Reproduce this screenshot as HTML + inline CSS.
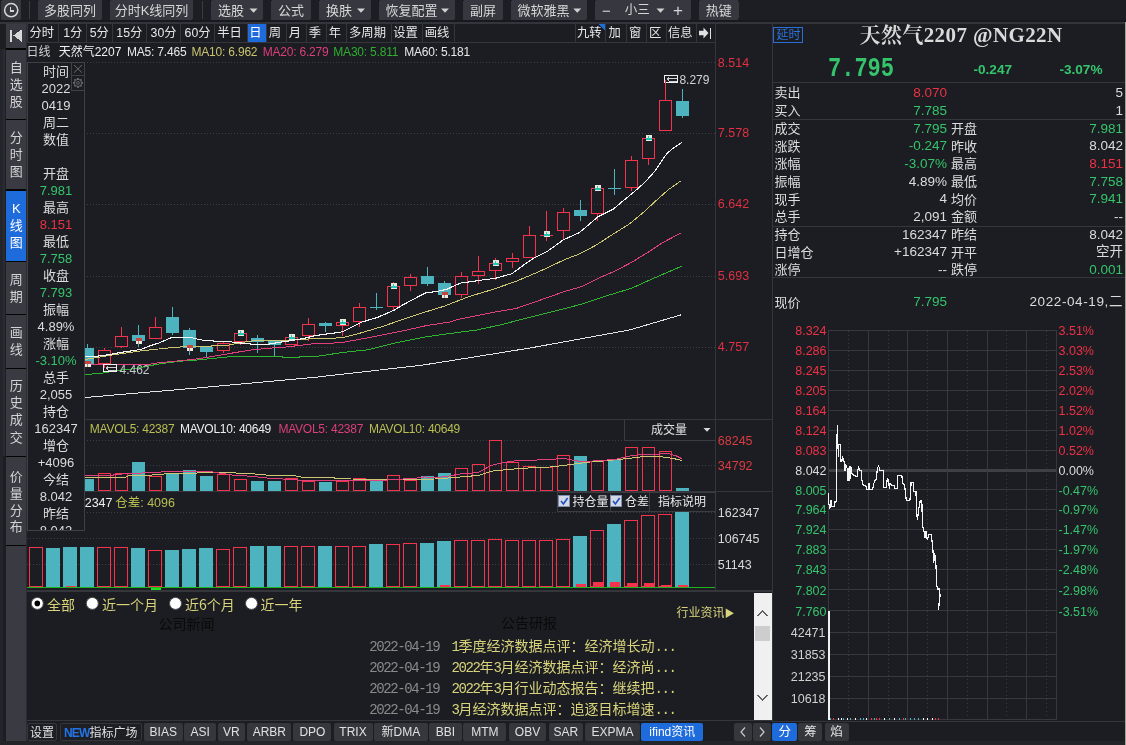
<!DOCTYPE html>
<html><head><meta charset="utf-8"><title>K线</title>
<style>
html,body{margin:0;padding:0;background:#1b1d22;}
body{width:1126px;height:745px;position:relative;overflow:hidden;font-family:"Liberation Sans", "Noto Sans CJK SC", sans-serif;}
.t{position:absolute;white-space:nowrap;}
svg{position:absolute;left:0;top:0;}
</style></head><body>
<svg width="1126" height="745" viewBox="0 0 1126 745" shape-rendering="crispEdges">
<rect x="0" y="0" width="1126" height="745" fill="#1b1d22"/>
<rect x="0" y="0" width="1126" height="22" fill="#1c1e23"/>
<rect x="0" y="20" width="1126" height="2" fill="#17191d"/>
<rect x="0" y="22" width="1126" height="2" fill="#33353c"/>
<rect x="0" y="24" width="6" height="721" fill="#1c1e22"/>
<rect x="0" y="48.5" width="2.8" height="696" fill="#22252c"/>
<rect x="2.8" y="48.5" width="2.3" height="407.5" fill="#2b2c32"/>
<rect x="26" y="24" width="1" height="717" fill="#2a2c32"/>
<rect x="0" y="741" width="1125" height="4" fill="#242529"/>
<rect x="1" y="0" width="20" height="20" rx="2" fill="#37383f"/>
<rect x="38" y="0" width="64" height="20" rx="2" fill="#37383f"/>
<rect x="110" y="0" width="83" height="20" rx="2" fill="#37383f"/>
<rect x="211" y="0" width="52" height="20" rx="2" fill="#37383f"/>
<rect x="271" y="0" width="40" height="20" rx="2" fill="#37383f"/>
<rect x="319" y="0" width="52" height="20" rx="2" fill="#37383f"/>
<rect x="379" y="0" width="76" height="20" rx="2" fill="#37383f"/>
<rect x="463" y="0" width="40" height="20" rx="2" fill="#37383f"/>
<rect x="511" y="0" width="76" height="20" rx="2" fill="#37383f"/>
<rect x="595" y="0" width="96" height="20" rx="2" fill="#37383f"/>
<rect x="699" y="0" width="39.5" height="20" rx="2" fill="#37383f"/>
<rect x="29" y="1" width="1" height="18" fill="#3a3c42"/>
<rect x="202" y="1" width="1" height="18" fill="#3a3c42"/>
<circle cx="11.2" cy="10.2" r="6.6" fill="none" stroke="#d6d6d6" stroke-width="1.5" shape-rendering="geometricPrecision"/>
<path d="M10.6 6.6 V10.9 H14" fill="none" stroke="#d6d6d6" stroke-width="1.4"/>
<path d="M249.5 8.6 h8 l-4 4.2 z" fill="#d0d0d0" shape-rendering="geometricPrecision"/>
<path d="M357 8.6 h8 l-4 4.2 z" fill="#d0d0d0" shape-rendering="geometricPrecision"/>
<path d="M441 8.6 h8 l-4 4.2 z" fill="#d0d0d0" shape-rendering="geometricPrecision"/>
<path d="M573.3 8.6 h8 l-4 4.2 z" fill="#d0d0d0" shape-rendering="geometricPrecision"/>
<path d="M656.5 8.6 h8 l-4 4.2 z" fill="#d0d0d0" shape-rendering="geometricPrecision"/>
<rect x="27" y="24" width="689" height="18" fill="#1b1d22"/>
<rect x="27" y="42" width="689" height="1.3" fill="#34363c"/>
<rect x="27" y="24" width="1" height="18" fill="#34363c"/>
<rect x="58.4" y="24" width="1" height="18" fill="#34363c"/>
<rect x="85.8" y="24" width="1" height="18" fill="#34363c"/>
<rect x="111.5" y="24" width="1" height="18" fill="#34363c"/>
<rect x="146" y="24" width="1" height="18" fill="#34363c"/>
<rect x="180" y="24" width="1" height="18" fill="#34363c"/>
<rect x="214" y="24" width="1" height="18" fill="#34363c"/>
<rect x="247" y="24" width="1" height="18" fill="#34363c"/>
<rect x="266" y="24" width="1" height="18" fill="#34363c"/>
<rect x="286" y="24" width="1" height="18" fill="#34363c"/>
<rect x="306" y="24" width="1" height="18" fill="#34363c"/>
<rect x="326" y="24" width="1" height="18" fill="#34363c"/>
<rect x="346" y="24" width="1" height="18" fill="#34363c"/>
<rect x="391" y="24" width="1" height="18" fill="#34363c"/>
<rect x="422" y="24" width="1" height="18" fill="#34363c"/>
<rect x="454" y="24" width="1" height="18" fill="#34363c"/>
<rect x="575" y="24" width="1" height="18" fill="#34363c"/>
<rect x="605" y="24" width="1" height="18" fill="#34363c"/>
<rect x="626" y="24" width="1" height="18" fill="#34363c"/>
<rect x="646" y="24" width="1" height="18" fill="#34363c"/>
<rect x="666" y="24" width="1" height="18" fill="#34363c"/>
<rect x="696" y="24" width="1" height="18" fill="#34363c"/>
<rect x="715" y="24" width="1" height="18" fill="#34363c"/>
<rect x="247.5" y="24" width="18.5" height="18" fill="#1e6bdb"/>
<path d="M598 24 h7 v7 z" fill="#1e6bdb"/>
<rect x="6" y="24" width="20" height="24" fill="#393a42"/>
<rect x="10" y="29.5" width="2" height="12" fill="#d8d8d8"/>
<path d="M21.5 29.5 v12 l-8 -6 z" fill="#d8d8d8"/>
<rect x="6" y="48" width="20" height="693" fill="#050505"/>
<rect x="6" y="49.5" width="20" height="69.2" fill="#393a42"/>
<rect x="6" y="119.6" width="20" height="69.20000000000002" fill="#393a42"/>
<rect x="6" y="190.8" width="20" height="70.0" fill="#1e6bdb"/>
<rect x="6" y="262" width="20" height="52.19999999999999" fill="#393a42"/>
<rect x="6" y="315.2" width="20" height="52.400000000000034" fill="#393a42"/>
<rect x="6" y="368.6" width="20" height="87.39999999999998" fill="#393a42"/>
<rect x="6" y="457" width="20" height="88" fill="#393a42"/>
<rect x="6" y="546" width="20" height="194.79999999999995" fill="#393a42"/>
<rect x="772" y="24" width="1" height="697" fill="#34363c"/>
<rect x="1125" y="22" width="1" height="723" fill="#9ea390"/>
<rect x="772" y="82" width="353" height="1" fill="#34363c"/>
<rect x="772" y="118.5" width="353" height="1" fill="#34363c"/>
<rect x="772" y="225.5" width="353" height="1" fill="#34363c"/>
<rect x="772" y="277" width="353" height="1" fill="#34363c"/>
<rect x="773.8" y="27.5" width="28.5" height="14.5" fill="none" stroke="#2a6fd6" stroke-width="1"/>
<line x1="27" y1="62.5" x2="716" y2="62.5" stroke="#3c3e44" stroke-width="1" stroke-dasharray="1 2"/>
<line x1="27" y1="133.5" x2="716" y2="133.5" stroke="#3c3e44" stroke-width="1" stroke-dasharray="1 2"/>
<line x1="27" y1="204.5" x2="716" y2="204.5" stroke="#3c3e44" stroke-width="1" stroke-dasharray="1 2"/>
<line x1="27" y1="276.5" x2="716" y2="276.5" stroke="#3c3e44" stroke-width="1" stroke-dasharray="1 2"/>
<line x1="27" y1="347.5" x2="716" y2="347.5" stroke="#3c3e44" stroke-width="1" stroke-dasharray="1 2"/>
<line x1="27" y1="440.5" x2="716" y2="440.5" stroke="#3c3e44" stroke-width="1" stroke-dasharray="1 2"/>
<line x1="27" y1="465.5" x2="716" y2="465.5" stroke="#3c3e44" stroke-width="1" stroke-dasharray="1 2"/>
<line x1="27" y1="512.5" x2="716" y2="512.5" stroke="#3c3e44" stroke-width="1" stroke-dasharray="1 2"/>
<line x1="27" y1="538.5" x2="716" y2="538.5" stroke="#3c3e44" stroke-width="1" stroke-dasharray="1 2"/>
<line x1="27" y1="564.5" x2="716" y2="564.5" stroke="#3c3e44" stroke-width="1" stroke-dasharray="1 2"/>
<rect x="715" y="24" width="1" height="567" fill="#34363c"/>
<rect x="27" y="419" width="745" height="1" fill="#34363c"/>
<rect x="27" y="490.8" width="745" height="1" fill="#34363c"/>
<rect x="27" y="590" width="745" height="1.5" fill="#34363c"/>
<rect x="87" y="344.0" width="1.1" height="20.5" fill="#4cb3bf"/>
<rect x="81.0" y="348.2" width="13" height="15.7" fill="#4cb3bf"/>
<rect x="104" y="348.2" width="1.1" height="2.1" fill="#f4334c"/>
<rect x="104" y="364.5" width="1.1" height="3.6" fill="#f4334c"/>
<rect x="98.5" y="350.5" width="12" height="13" fill="none" stroke="#f4334c" stroke-width="1"/>
<rect x="121" y="327.0" width="1.1" height="9.1" fill="#f4334c"/>
<rect x="121" y="347.0" width="1.1" height="1.2" fill="#f4334c"/>
<rect x="115.5" y="336.5" width="12" height="10" fill="none" stroke="#f4334c" stroke-width="1"/>
<rect x="138" y="325.0" width="1.1" height="22.0" fill="#4cb3bf"/>
<rect x="132.0" y="334.9" width="13" height="6.0" fill="#4cb3bf"/>
<rect x="155" y="317.0" width="1.1" height="10.0" fill="#f4334c"/>
<rect x="149.5" y="327.5" width="12" height="11" fill="none" stroke="#f4334c" stroke-width="1"/>
<rect x="172" y="306.8" width="1.1" height="28.1" fill="#4cb3bf"/>
<rect x="166.0" y="317.0" width="13" height="16.0" fill="#4cb3bf"/>
<rect x="189" y="327.9" width="1.1" height="26.9" fill="#4cb3bf"/>
<rect x="183.0" y="330.0" width="13" height="18.2" fill="#4cb3bf"/>
<rect x="206" y="347.1" width="1.1" height="9.7" fill="#4cb3bf"/>
<rect x="200.0" y="347.1" width="13" height="4.9" fill="#4cb3bf"/>
<rect x="223" y="341.7" width="1.1" height="1.6" fill="#f4334c"/>
<rect x="223" y="350.8" width="1.1" height="2.1" fill="#f4334c"/>
<rect x="217.5" y="343.5" width="12" height="7" fill="none" stroke="#f4334c" stroke-width="1"/>
<rect x="240" y="341.7" width="1.1" height="3.0" fill="#f4334c"/>
<rect x="234.5" y="333.5" width="12" height="8" fill="none" stroke="#f4334c" stroke-width="1"/>
<rect x="257" y="335.0" width="1.1" height="17.9" fill="#4cb3bf"/>
<rect x="251.0" y="338.0" width="13" height="3.7" fill="#4cb3bf"/>
<rect x="274" y="341.3" width="1.1" height="14.9" fill="#4cb3bf"/>
<rect x="268.0" y="341.3" width="13" height="3.4" fill="#4cb3bf"/>
<rect x="285.5" y="337.5" width="12" height="7" fill="none" stroke="#f4334c" stroke-width="1"/>
<rect x="308" y="318.1" width="1.1" height="5.5" fill="#f4334c"/>
<rect x="308" y="336.0" width="1.1" height="4.8" fill="#f4334c"/>
<rect x="302.5" y="324.5" width="12" height="11" fill="none" stroke="#f4334c" stroke-width="1"/>
<rect x="325" y="322.0" width="1.1" height="9.7" fill="#4cb3bf"/>
<rect x="319.0" y="323.3" width="13" height="2.7" fill="#4cb3bf"/>
<rect x="342" y="325.7" width="1.1" height="10.0" fill="#f4334c"/>
<rect x="336.5" y="322.5" width="12" height="3" fill="none" stroke="#f4334c" stroke-width="1"/>
<rect x="359" y="303.1" width="1.1" height="4.1" fill="#f4334c"/>
<rect x="359" y="321.7" width="1.1" height="5.2" fill="#f4334c"/>
<rect x="353.5" y="307.5" width="12" height="14" fill="none" stroke="#f4334c" stroke-width="1"/>
<rect x="376" y="293.0" width="1.1" height="17.0" fill="#4cb3bf"/>
<rect x="370.0" y="307.0" width="13" height="1.2" fill="#4cb3bf"/>
<rect x="393" y="282.2" width="1.1" height="4.0" fill="#f4334c"/>
<rect x="393" y="306.7" width="1.1" height="3.3" fill="#f4334c"/>
<rect x="387.5" y="286.5" width="12" height="20" fill="none" stroke="#f4334c" stroke-width="1"/>
<rect x="410" y="273.7" width="1.1" height="3.3" fill="#f4334c"/>
<rect x="410" y="285.8" width="1.1" height="5.2" fill="#f4334c"/>
<rect x="404.5" y="277.5" width="12" height="8" fill="none" stroke="#f4334c" stroke-width="1"/>
<rect x="427" y="267.1" width="1.1" height="18.9" fill="#4cb3bf"/>
<rect x="421.0" y="276.0" width="13" height="7.9" fill="#4cb3bf"/>
<rect x="444" y="281.1" width="1.1" height="13.9" fill="#4cb3bf"/>
<rect x="438.0" y="283.0" width="13" height="12.0" fill="#4cb3bf"/>
<rect x="461" y="272.1" width="1.1" height="4.0" fill="#f4334c"/>
<rect x="461" y="294.8" width="1.1" height="3.1" fill="#f4334c"/>
<rect x="455.5" y="276.5" width="12" height="18" fill="none" stroke="#f4334c" stroke-width="1"/>
<rect x="478" y="256.2" width="1.1" height="15.1" fill="#f4334c"/>
<rect x="478" y="275.8" width="1.1" height="8.0" fill="#f4334c"/>
<rect x="472.5" y="271.5" width="12" height="4" fill="none" stroke="#f4334c" stroke-width="1"/>
<rect x="495" y="258.2" width="1.1" height="4.9" fill="#f4334c"/>
<rect x="495" y="270.7" width="1.1" height="9.1" fill="#f4334c"/>
<rect x="489.5" y="263.5" width="12" height="7" fill="none" stroke="#f4334c" stroke-width="1"/>
<rect x="512" y="253.0" width="1.1" height="5.2" fill="#f4334c"/>
<rect x="512" y="261.9" width="1.1" height="6.0" fill="#f4334c"/>
<rect x="506.5" y="258.5" width="12" height="3" fill="none" stroke="#f4334c" stroke-width="1"/>
<rect x="529" y="226.0" width="1.1" height="9.3" fill="#f4334c"/>
<rect x="523.5" y="235.5" width="12" height="22" fill="none" stroke="#f4334c" stroke-width="1"/>
<rect x="546" y="211.0" width="1.1" height="24.1" fill="#f4334c"/>
<rect x="546" y="235.1" width="1.1" height="5.9" fill="#f4334c"/>
<rect x="540.0" y="234.5" width="13" height="1.2" fill="#f4334c"/>
<rect x="563" y="208.2" width="1.1" height="4.0" fill="#f4334c"/>
<rect x="563" y="230.7" width="1.1" height="9.3" fill="#f4334c"/>
<rect x="557.5" y="212.5" width="12" height="18" fill="none" stroke="#f4334c" stroke-width="1"/>
<rect x="580" y="199.8" width="1.1" height="21.2" fill="#4cb3bf"/>
<rect x="574.0" y="209.8" width="13" height="6.1" fill="#4cb3bf"/>
<rect x="597" y="213.7" width="1.1" height="7.0" fill="#f4334c"/>
<rect x="591.5" y="188.5" width="12" height="25" fill="none" stroke="#f4334c" stroke-width="1"/>
<rect x="614" y="168.7" width="1.1" height="26.3" fill="#4cb3bf"/>
<rect x="608.0" y="187.8" width="13" height="1.2" fill="#4cb3bf"/>
<rect x="631" y="155.8" width="1.1" height="4.5" fill="#f4334c"/>
<rect x="631" y="187.7" width="1.1" height="3.3" fill="#f4334c"/>
<rect x="625.5" y="160.5" width="12" height="27" fill="none" stroke="#f4334c" stroke-width="1"/>
<rect x="648" y="158.6" width="1.1" height="6.0" fill="#f4334c"/>
<rect x="642.5" y="138.5" width="12" height="20" fill="none" stroke="#f4334c" stroke-width="1"/>
<rect x="665" y="80.0" width="1.1" height="20.2" fill="#f4334c"/>
<rect x="659.5" y="100.5" width="12" height="30" fill="none" stroke="#f4334c" stroke-width="1"/>
<rect x="682" y="89.0" width="1.1" height="28.7" fill="#4cb3bf"/>
<rect x="676.0" y="100.9" width="13" height="15.0" fill="#4cb3bf"/>
<polyline points="28.0,400.5 85.0,397.5 195.0,388.2 315.0,377.3 385.8,369.3 420.0,365.5 463.4,358.7 530.0,348.0 629.5,330.0 681.5,314.7" fill="none" stroke="#e4e4e4" stroke-width="1.0" stroke-linejoin="round" shape-rendering="crispEdges"/>
<polyline points="28.0,378.0 84.0,374.5 100.0,373.5 116.0,370.8 137.3,368.2 158.6,364.0 180.0,361.2 195.0,360.2 210.7,358.6 231.3,356.6 282.0,356.6 283.2,357.4 299.0,357.4 300.0,356.6 316.0,356.4 342.9,352.5 368.4,349.7 394.0,343.3 425.9,336.9 450.0,333.5 476.8,330.0 504.2,324.0 520.0,319.7 549.7,312.4 581.6,304.2 606.7,295.8 631.8,288.2 647.8,280.9 666.0,272.9 681.5,266.3" fill="none" stroke="#2fb42f" stroke-width="1.0" stroke-linejoin="round" shape-rendering="crispEdges"/>
<polyline points="28.0,365.0 84.0,364.6 148.0,364.6 152.5,363.6 158.6,362.8 169.3,361.8 180.0,360.7 190.6,359.6 195.0,359.2 210.7,356.8 231.3,353.2 249.4,350.2 267.5,348.3 285.6,347.1 315.0,343.5 330.0,343.3 343.9,342.2 372.6,336.9 404.6,330.5 425.9,325.7 450.0,322.0 456.3,319.8 492.5,312.5 516.7,308.3 542.8,299.2 565.6,291.2 581.6,286.6 597.6,278.6 615.8,270.7 631.8,262.2 647.8,252.4 661.5,243.3 681.5,232.6" fill="none" stroke="#e0407e" stroke-width="1.0" stroke-linejoin="round" shape-rendering="crispEdges"/>
<polyline points="28.0,361.0 84.0,359.6 96.8,357.5 110.6,355.2 126.6,352.9 139.4,351.1 158.6,349.0 169.3,347.9 182.0,346.8 204.0,346.3 214.3,345.9 227.6,345.3 231.3,344.5 247.0,341.7 255.4,340.5 279.6,340.5 297.7,339.9 315.0,338.4 330.0,338.5 343.9,337.4 362.0,332.6 383.3,326.2 404.6,318.8 425.9,311.8 444.2,306.2 468.3,296.8 492.5,289.5 516.7,281.1 540.0,271.2 565.6,259.2 579.3,254.0 595.3,245.6 611.3,235.3 629.5,223.9 643.2,212.5 656.9,199.9 668.3,189.7 681.5,180.5" fill="none" stroke="#cdc772" stroke-width="1.0" stroke-linejoin="round" shape-rendering="crispEdges"/>
<polyline points="28.0,358.0 84.0,357.0 92.5,356.4 100.0,355.9 108.5,354.8 116.0,353.2 133.0,350.6 141.6,349.3 150.0,345.8 158.6,343.1 171.4,337.6 191.6,337.6 194.8,338.6 198.6,339.3 204.7,340.5 215.0,341.1 231.3,341.7 232.5,342.5 245.8,343.3 254.2,344.5 266.3,344.5 279.6,342.3 286.8,341.3 297.7,339.6 303.8,338.4 315.0,335.6 330.0,333.5 339.6,332.4 343.9,331.0 362.0,322.0 378.0,317.2 394.0,310.2 404.6,303.9 425.9,292.7 436.6,291.6 447.8,289.0 452.6,286.5 461.1,282.9 470.8,281.7 482.8,279.9 494.9,278.4 507.0,275.0 511.8,273.8 516.7,270.2 526.3,263.0 533.7,258.1 547.4,251.3 563.3,239.9 579.3,232.6 588.4,225.0 597.6,217.0 613.5,209.1 622.7,201.1 634.1,191.9 645.5,181.7 654.6,171.4 661.5,161.1 667.0,153.5 673.0,148.3 682.0,142.3" fill="none" stroke="#f6f6f6" stroke-width="1.1" stroke-linejoin="round" shape-rendering="crispEdges"/>
<rect x="237.5" y="330.0" width="6" height="6" fill="#ece8dc"/>
<rect x="237.5" y="333.0" width="6" height="2" fill="#1ec8b4"/>
<rect x="240.0" y="331.0" width="1" height="3" fill="#1ec8b4"/>
<rect x="288.5" y="334.0" width="6" height="6" fill="#ece8dc"/>
<rect x="288.5" y="337.0" width="6" height="2" fill="#1ec8b4"/>
<rect x="291.0" y="335.0" width="1" height="3" fill="#1ec8b4"/>
<rect x="339.5" y="319.0" width="6" height="6" fill="#ece8dc"/>
<rect x="339.5" y="322.0" width="6" height="2" fill="#1ec8b4"/>
<rect x="342.0" y="320.0" width="1" height="3" fill="#1ec8b4"/>
<rect x="390.5" y="283.0" width="6" height="6" fill="#ece8dc"/>
<rect x="390.5" y="286.0" width="6" height="2" fill="#1ec8b4"/>
<rect x="393.0" y="284.0" width="1" height="3" fill="#1ec8b4"/>
<rect x="492.5" y="259.8" width="6" height="6" fill="#ece8dc"/>
<rect x="492.5" y="262.8" width="6" height="2" fill="#1ec8b4"/>
<rect x="495.0" y="260.8" width="1" height="3" fill="#1ec8b4"/>
<rect x="543.5" y="231.2" width="6" height="6" fill="#ece8dc"/>
<rect x="543.5" y="234.2" width="6" height="2" fill="#1ec8b4"/>
<rect x="546.0" y="232.2" width="1" height="3" fill="#1ec8b4"/>
<rect x="594.5" y="185.0" width="6" height="6" fill="#ece8dc"/>
<rect x="594.5" y="188.0" width="6" height="2" fill="#1ec8b4"/>
<rect x="597.0" y="186.0" width="1" height="3" fill="#1ec8b4"/>
<rect x="645.5" y="135.1" width="6" height="6" fill="#ece8dc"/>
<rect x="645.5" y="138.1" width="6" height="2" fill="#1ec8b4"/>
<rect x="648.0" y="136.1" width="1" height="3" fill="#1ec8b4"/>
<rect x="84.5" y="361.0" width="6" height="3" fill="#c8443c"/>
<rect x="84.5" y="364.0" width="6" height="3" fill="#f0ece4"/>
<rect x="87.0" y="364.0" width="1" height="3" fill="#9a8a80"/>
<rect x="135.5" y="338.0" width="6" height="3" fill="#c8443c"/>
<rect x="135.5" y="341.0" width="6" height="3" fill="#f0ece4"/>
<rect x="138.0" y="341.0" width="1" height="3" fill="#9a8a80"/>
<rect x="186.5" y="345.0" width="6" height="3" fill="#c8443c"/>
<rect x="186.5" y="348.0" width="6" height="3" fill="#f0ece4"/>
<rect x="189.0" y="348.0" width="1" height="3" fill="#9a8a80"/>
<rect x="441.5" y="292.0" width="6" height="3" fill="#c8443c"/>
<rect x="441.5" y="295.0" width="6" height="3" fill="#f0ece4"/>
<rect x="444.0" y="295.0" width="1" height="3" fill="#9a8a80"/>
<rect x="664.5" y="75.5" width="13" height="7" fill="none" stroke="#f0f0f0" stroke-width="1"/>
<rect x="669" y="77.5" width="7.5" height="1" fill="#d0d0d0"/>
<rect x="669" y="80.5" width="7.5" height="1" fill="#d0d0d0"/>
<path d="M666 79 l2.5 -2 v4 z" fill="#c8c8c8"/>
<rect x="665" y="80" width="1.1" height="2.5" fill="#f0334a"/>
<rect x="103.5" y="364.5" width="13" height="7" fill="none" stroke="#f0f0f0" stroke-width="1"/>
<rect x="108" y="366.5" width="7.5" height="1" fill="#d0d0d0"/>
<rect x="108" y="369.5" width="7.5" height="1" fill="#d0d0d0"/>
<path d="M105 368 l2.5 -2 v4 z" fill="#c8c8c8"/>
<rect x="81.0" y="478.7" width="13" height="12.1" fill="#4cb3bf"/>
<rect x="98.5" y="473.5" width="12" height="17" fill="none" stroke="#f4334c" stroke-width="1"/>
<rect x="115.5" y="473.5" width="12" height="17" fill="none" stroke="#f4334c" stroke-width="1"/>
<rect x="132.0" y="462.0" width="13" height="28.8" fill="#4cb3bf"/>
<rect x="149.5" y="476.5" width="12" height="14" fill="none" stroke="#f4334c" stroke-width="1"/>
<rect x="166.0" y="472.8" width="13" height="18.0" fill="#4cb3bf"/>
<rect x="183.0" y="470.0" width="13" height="20.8" fill="#4cb3bf"/>
<rect x="200.0" y="476.0" width="13" height="14.8" fill="#4cb3bf"/>
<rect x="217.5" y="474.5" width="12" height="16" fill="none" stroke="#f4334c" stroke-width="1"/>
<rect x="234.5" y="479.5" width="12" height="11" fill="none" stroke="#f4334c" stroke-width="1"/>
<rect x="251.0" y="480.9" width="13" height="9.9" fill="#4cb3bf"/>
<rect x="268.0" y="480.9" width="13" height="9.9" fill="#4cb3bf"/>
<rect x="285.5" y="478.5" width="12" height="12" fill="none" stroke="#f4334c" stroke-width="1"/>
<rect x="302.5" y="481.5" width="12" height="9" fill="none" stroke="#f4334c" stroke-width="1"/>
<rect x="319.0" y="482.0" width="13" height="8.8" fill="#4cb3bf"/>
<rect x="336.5" y="481.5" width="12" height="9" fill="none" stroke="#f4334c" stroke-width="1"/>
<rect x="353.5" y="478.5" width="12" height="12" fill="none" stroke="#f4334c" stroke-width="1"/>
<rect x="370.0" y="480.6" width="13" height="10.2" fill="#4cb3bf"/>
<rect x="387.5" y="475.5" width="12" height="15" fill="none" stroke="#f4334c" stroke-width="1"/>
<rect x="404.5" y="480.5" width="12" height="10" fill="none" stroke="#f4334c" stroke-width="1"/>
<rect x="421.0" y="475.8" width="13" height="15.0" fill="#4cb3bf"/>
<rect x="438.0" y="473.0" width="13" height="17.8" fill="#4cb3bf"/>
<rect x="455.5" y="468.5" width="12" height="22" fill="none" stroke="#f4334c" stroke-width="1"/>
<rect x="472.5" y="464.5" width="12" height="26" fill="none" stroke="#f4334c" stroke-width="1"/>
<rect x="489.5" y="440.5" width="12" height="50" fill="none" stroke="#f4334c" stroke-width="1"/>
<rect x="506.5" y="462.5" width="12" height="28" fill="none" stroke="#f4334c" stroke-width="1"/>
<rect x="523.5" y="466.5" width="12" height="24" fill="none" stroke="#f4334c" stroke-width="1"/>
<rect x="540.5" y="467.5" width="12" height="23" fill="none" stroke="#f4334c" stroke-width="1"/>
<rect x="557.5" y="455.5" width="12" height="35" fill="none" stroke="#f4334c" stroke-width="1"/>
<rect x="574.0" y="456.2" width="13" height="34.6" fill="#4cb3bf"/>
<rect x="591.5" y="461.5" width="12" height="29" fill="none" stroke="#f4334c" stroke-width="1"/>
<rect x="608.0" y="458.9" width="13" height="31.9" fill="#4cb3bf"/>
<rect x="625.5" y="447.5" width="12" height="43" fill="none" stroke="#f4334c" stroke-width="1"/>
<rect x="642.5" y="447.5" width="12" height="43" fill="none" stroke="#f4334c" stroke-width="1"/>
<rect x="659.5" y="451.5" width="12" height="39" fill="none" stroke="#f4334c" stroke-width="1"/>
<rect x="676.0" y="487.9" width="13" height="2.9" fill="#4cb3bf"/>
<polyline points="85.0,477.3 125.5,477.3 126.9,476.2 132.6,475.5 159.6,474.8 165.3,473.8 172.4,473.3 230.6,472.6 240.0,473.3 265.4,474.5 266.2,475.5 295.7,475.5 296.5,476.4 303.7,477.4 334.1,477.4 334.9,478.5 350.9,479.0 400.0,479.4 435.5,479.0 452.6,477.6 469.6,476.2 479.6,475.2 490.9,471.2 502.3,470.1 520.8,468.4 542.1,467.2 550.0,467.0 563.3,465.6 576.6,463.6 590.0,462.0 603.3,461.0 616.6,459.6 629.9,458.3 643.2,456.6 656.6,456.3 667.2,457.4 676.5,459.2 681.9,460.6" fill="none" stroke="#cdc772" stroke-width="1.0" stroke-linejoin="round" shape-rendering="crispEdges"/>
<polyline points="85.0,475.5 112.7,475.5 114.0,474.7 129.7,473.3 159.6,472.6 161.0,471.9 168.0,471.2 207.9,471.2 215.0,472.3 235.0,475.5 249.4,476.1 262.2,477.4 270.2,478.5 283.0,479.0 299.0,480.1 346.9,480.1 385.3,480.1 400.0,479.2 414.9,478.3 424.2,476.9 435.5,477.6 448.3,476.2 459.7,474.0 471.0,473.3 479.6,471.9 490.9,465.5 499.4,463.4 510.8,461.3 520.8,460.5 550.0,459.6 563.3,458.3 570.0,459.6 580.6,461.6 592.6,461.0 603.3,460.3 616.6,459.2 627.3,456.3 643.2,454.3 656.6,454.3 667.2,453.0 676.5,456.0 681.9,458.7" fill="none" stroke="#e0407e" stroke-width="1.0" stroke-linejoin="round" shape-rendering="crispEdges"/>
<rect x="29.5" y="547.5" width="13" height="39" fill="none" stroke="#f4334c" stroke-width="1"/>
<rect x="46.0" y="548.0" width="14" height="39.0" fill="#4cb3bf"/>
<rect x="63.0" y="547.0" width="14" height="40.0" fill="#4cb3bf"/>
<rect x="80.0" y="547.0" width="14" height="40.0" fill="#4cb3bf"/>
<rect x="97.5" y="547.5" width="13" height="39" fill="none" stroke="#f4334c" stroke-width="1"/>
<rect x="114.5" y="547.5" width="13" height="39" fill="none" stroke="#f4334c" stroke-width="1"/>
<rect x="131.0" y="548.0" width="14" height="39.0" fill="#4cb3bf"/>
<rect x="148.5" y="550.5" width="13" height="36" fill="none" stroke="#f4334c" stroke-width="1"/>
<rect x="165.0" y="550.0" width="14" height="37.0" fill="#4cb3bf"/>
<rect x="182.0" y="548.8" width="14" height="38.2" fill="#4cb3bf"/>
<rect x="199.0" y="548.0" width="14" height="39.0" fill="#4cb3bf"/>
<rect x="216.5" y="549.5" width="13" height="37" fill="none" stroke="#f4334c" stroke-width="1"/>
<rect x="233.5" y="547.5" width="13" height="39" fill="none" stroke="#f4334c" stroke-width="1"/>
<rect x="250.0" y="545.8" width="14" height="41.2" fill="#4cb3bf"/>
<rect x="267.0" y="545.8" width="14" height="41.2" fill="#4cb3bf"/>
<rect x="284.5" y="546.5" width="13" height="40" fill="none" stroke="#f4334c" stroke-width="1"/>
<rect x="301.5" y="546.5" width="13" height="40" fill="none" stroke="#f4334c" stroke-width="1"/>
<rect x="318.0" y="545.8" width="14" height="41.2" fill="#4cb3bf"/>
<rect x="335.5" y="546.5" width="13" height="40" fill="none" stroke="#f4334c" stroke-width="1"/>
<rect x="352.5" y="546.5" width="13" height="40" fill="none" stroke="#f4334c" stroke-width="1"/>
<rect x="369.0" y="544.0" width="14" height="43.0" fill="#4cb3bf"/>
<rect x="386.5" y="544.5" width="13" height="42" fill="none" stroke="#f4334c" stroke-width="1"/>
<rect x="403.5" y="543.5" width="13" height="43" fill="none" stroke="#f4334c" stroke-width="1"/>
<rect x="420.0" y="542.6" width="14" height="44.4" fill="#4cb3bf"/>
<rect x="437.0" y="540.9" width="14" height="46.1" fill="#4cb3bf"/>
<rect x="454.5" y="540.5" width="13" height="46" fill="none" stroke="#f4334c" stroke-width="1"/>
<rect x="471.5" y="540.5" width="13" height="46" fill="none" stroke="#f4334c" stroke-width="1"/>
<rect x="488.5" y="539.5" width="13" height="47" fill="none" stroke="#f4334c" stroke-width="1"/>
<rect x="505.5" y="540.5" width="13" height="46" fill="none" stroke="#f4334c" stroke-width="1"/>
<rect x="522.5" y="540.5" width="13" height="46" fill="none" stroke="#f4334c" stroke-width="1"/>
<rect x="539.5" y="540.5" width="13" height="46" fill="none" stroke="#f4334c" stroke-width="1"/>
<rect x="556.5" y="539.5" width="13" height="47" fill="none" stroke="#f4334c" stroke-width="1"/>
<rect x="573.0" y="535.8" width="14" height="51.2" fill="#4cb3bf"/>
<rect x="590.5" y="530.5" width="13" height="56" fill="none" stroke="#f4334c" stroke-width="1"/>
<rect x="607.0" y="523.7" width="14" height="63.3" fill="#4cb3bf"/>
<rect x="624.5" y="520.5" width="13" height="66" fill="none" stroke="#f4334c" stroke-width="1"/>
<rect x="641.5" y="515.5" width="13" height="71" fill="none" stroke="#f4334c" stroke-width="1"/>
<rect x="658.5" y="514.5" width="13" height="72" fill="none" stroke="#f4334c" stroke-width="1"/>
<rect x="675.0" y="511.2" width="14" height="75.8" fill="#4cb3bf"/>
<rect x="31.5" y="585.8" width="10" height="1.2" fill="#f4334c"/>
<rect x="65.5" y="585.8" width="10" height="1.2" fill="#f4334c"/>
<rect x="439.5" y="585.4" width="10" height="1.6" fill="#f4334c"/>
<rect x="575.5" y="584.2" width="10" height="2.8" fill="#f4334c"/>
<rect x="592.5" y="581.6" width="10" height="5.4" fill="#f4334c"/>
<rect x="609.5" y="581.6" width="10" height="5.4" fill="#f4334c"/>
<rect x="626.5" y="582.6" width="10" height="4.4" fill="#f4334c"/>
<rect x="643.5" y="582.6" width="10" height="4.4" fill="#f4334c"/>
<rect x="660.5" y="585.2" width="10" height="1.8" fill="#f4334c"/>
<rect x="677.5" y="585.2" width="10" height="1.8" fill="#f4334c"/>
<rect x="27" y="587" width="688" height="1.3" fill="#1fb31f"/>
<rect x="150.5" y="587.5" width="10" height="2" fill="#22dd22"/>
<rect x="828" y="330.2" width="228.5" height="1" fill="#36383e"/>
<rect x="828" y="350.1" width="228.5" height="1" fill="#36383e"/>
<rect x="828" y="369.9" width="228.5" height="1" fill="#36383e"/>
<rect x="828" y="389.7" width="228.5" height="1" fill="#36383e"/>
<rect x="828" y="409.8" width="228.5" height="1" fill="#36383e"/>
<rect x="828" y="430.0" width="228.5" height="1" fill="#36383e"/>
<rect x="828" y="450.1" width="228.5" height="1" fill="#36383e"/>
<rect x="828" y="469.4" width="228.5" height="2.4" fill="#3e4046"/>
<rect x="828" y="489.4" width="228.5" height="1" fill="#36383e"/>
<rect x="828" y="509.1" width="228.5" height="1" fill="#36383e"/>
<rect x="828" y="528.9" width="228.5" height="1" fill="#36383e"/>
<rect x="828" y="548.8" width="228.5" height="1" fill="#36383e"/>
<rect x="828" y="569.1" width="228.5" height="1" fill="#36383e"/>
<rect x="828" y="589.3" width="228.5" height="1" fill="#36383e"/>
<rect x="828" y="610.4" width="228.5" height="1" fill="#36383e"/>
<rect x="828" y="632.2" width="228.5" height="1" fill="#36383e"/>
<rect x="828" y="654.0" width="228.5" height="1" fill="#36383e"/>
<rect x="828" y="675.8" width="228.5" height="1" fill="#36383e"/>
<rect x="828" y="697.7" width="228.5" height="1" fill="#36383e"/>
<rect x="828" y="719.0" width="228.5" height="1" fill="#36383e"/>
<rect x="827.5" y="330.2" width="1" height="389.8" fill="#36383e"/>
<rect x="868.1" y="330.2" width="1" height="389.8" fill="#36383e"/>
<rect x="907.4" y="330.2" width="1" height="389.8" fill="#36383e"/>
<rect x="947.1" y="330.2" width="1" height="389.8" fill="#36383e"/>
<rect x="987.0" y="330.2" width="1" height="389.8" fill="#36383e"/>
<rect x="1026.1" y="330.2" width="1" height="389.8" fill="#36383e"/>
<rect x="1056.0" y="330.2" width="1" height="389.8" fill="#36383e"/>
<line x1="848.5" y1="331" x2="848.5" y2="719" stroke="#3a3c42" stroke-width="1" stroke-dasharray="1 3"/>
<line x1="888.4" y1="331" x2="888.4" y2="719" stroke="#3a3c42" stroke-width="1" stroke-dasharray="1 3"/>
<line x1="927.6" y1="331" x2="927.6" y2="719" stroke="#3a3c42" stroke-width="1" stroke-dasharray="1 3"/>
<line x1="967.6" y1="331" x2="967.6" y2="719" stroke="#3a3c42" stroke-width="1" stroke-dasharray="1 3"/>
<line x1="1006.5" y1="331" x2="1006.5" y2="719" stroke="#3a3c42" stroke-width="1" stroke-dasharray="1 3"/>
<line x1="1046.4" y1="331" x2="1046.4" y2="719" stroke="#3a3c42" stroke-width="1" stroke-dasharray="1 3"/>
<polyline points="828.4,493.2 828.4,503.9 829.1,504.6 829.7,508.0 830.4,506.0 831.0,500.5 831.4,506.6 834.4,506.6 834.7,501.9 836.4,501.9 836.4,465.0 837.3,426.0 837.8,441.5 838.4,456.2 838.4,444.8 840.8,444.8 840.8,461.6 841.8,461.6 842.4,456.2 843.8,460.3 844.5,464.3 845.1,471.0 845.8,464.3 847.1,468.3 848.1,481.0 849.2,467.0 849.8,481.0 850.8,466.3 851.8,473.0 853.2,475.0 853.9,475.7 857.2,476.4 857.9,470.3 858.6,466.3 859.2,470.3 861.2,470.3 861.9,480.4 863.3,485.8 865.9,485.8 866.6,489.8 868.6,489.8 868.6,483.1 869.3,483.1 870.0,489.8 872.7,489.8 873.3,485.8 874.7,480.4 876.0,479.7 877.3,469.7 878.4,465.6 879.4,467.7 880.0,470.3 883.4,470.3 883.4,487.1 886.7,487.1 887.0,480.4 887.8,479.0 888.8,483.1 889.4,488.5 890.1,483.1 890.8,484.4 892.1,485.8 894.1,485.8 894.1,488.5 897.1,488.5 897.1,475.4 901.9,476.0 902.5,482.9 904.0,484.0 905.3,490.4 906.2,500.1 910.0,500.1 911.1,482.5 913.3,482.5 913.9,491.5 916.0,491.5 916.5,513.0 917.6,519.4 918.6,509.8 920.3,500.5 921.8,500.5 922.5,525.9 924.0,531.2 925.1,537.7 926.1,531.2 927.2,539.8 928.9,534.5 931.1,534.5 932.6,545.2 933.7,562.4 934.7,553.8 935.8,562.4 936.9,586.0 938.0,589.2 939.0,588.2 940.1,595.7 939.5,598.0 938.6,609.6" fill="none" stroke="#f4f4f4" stroke-width="1.2" stroke-linejoin="round" shape-rendering="crispEdges"/>
<rect x="828" y="611" width="1.6" height="108.5" fill="#f0f0f0"/>
<rect x="830.0" y="718" width="1.2" height="1.5" fill="#4cb3bf"/>
<rect x="833.0" y="718" width="1.2" height="1.5" fill="#f4334c"/>
<rect x="838.0" y="718" width="1.2" height="1.5" fill="#ffffff"/>
<rect x="840.5" y="718" width="1.2" height="1.5" fill="#ffffff"/>
<rect x="843.0" y="718" width="1.2" height="1.5" fill="#4cb3bf"/>
<rect x="847.0" y="718" width="1.2" height="1.5" fill="#ffffff"/>
<rect x="850.0" y="718" width="1.2" height="1.5" fill="#4cb3bf"/>
<rect x="855.0" y="718" width="1.2" height="1.5" fill="#ffffff"/>
<rect x="860.0" y="718" width="1.2" height="1.5" fill="#4cb3bf"/>
<rect x="863.0" y="718" width="1.2" height="1.5" fill="#4cb3bf"/>
<rect x="866.0" y="718" width="1.2" height="1.5" fill="#ffffff"/>
<rect x="871.0" y="718" width="1.2" height="1.5" fill="#f4334c"/>
<rect x="873.5" y="718" width="1.2" height="1.5" fill="#4cb3bf"/>
<rect x="876.0" y="718" width="1.2" height="1.5" fill="#f4334c"/>
<rect x="878.5" y="718" width="1.2" height="1.5" fill="#f4334c"/>
<rect x="883.5" y="718" width="1.2" height="1.5" fill="#ffffff"/>
<rect x="888.5" y="718" width="1.2" height="1.5" fill="#4cb3bf"/>
<rect x="893.5" y="718" width="1.2" height="1.5" fill="#ffffff"/>
<rect x="898.5" y="718" width="1.2" height="1.5" fill="#4cb3bf"/>
<rect x="902.5" y="718" width="1.2" height="1.5" fill="#f4334c"/>
<rect x="905.0" y="718" width="1.2" height="1.5" fill="#4cb3bf"/>
<rect x="910.0" y="718" width="1.2" height="1.5" fill="#4cb3bf"/>
<rect x="914.0" y="718" width="1.2" height="1.5" fill="#4cb3bf"/>
<rect x="918.0" y="718" width="1.2" height="1.5" fill="#4cb3bf"/>
<rect x="923.0" y="718" width="1.2" height="1.5" fill="#ffffff"/>
<rect x="927.0" y="718" width="1.2" height="1.5" fill="#ffffff"/>
<rect x="932.0" y="718" width="1.2" height="1.5" fill="#ffffff"/>
<rect x="935.0" y="718" width="1.2" height="1.5" fill="#f4334c"/>
<rect x="937.5" y="718" width="1.2" height="1.5" fill="#f4334c"/>
<rect x="753.6" y="592.5" width="18" height="128" fill="#f0f0f0"/>
<rect x="755" y="626" width="15" height="15" fill="#cdcdcd"/>
<path d="M757.5 616 l4.8 -4.8 l4.8 4.8" fill="none" stroke="#606060" stroke-width="1.4"/>
<path d="M757.5 695 l4.8 4.8 l4.8 -4.8" fill="none" stroke="#606060" stroke-width="1.4"/>
<circle cx="37.3" cy="603.4" r="6" fill="#ffffff" stroke="#4a4a4a" stroke-width="1" shape-rendering="geometricPrecision"/>
<circle cx="37.3" cy="603.4" r="2.8" fill="#000000" shape-rendering="geometricPrecision"/>
<circle cx="92.3" cy="603.4" r="6" fill="#ffffff" stroke="#4a4a4a" stroke-width="1" shape-rendering="geometricPrecision"/>
<circle cx="175.5" cy="603.4" r="6" fill="#ffffff" stroke="#4a4a4a" stroke-width="1" shape-rendering="geometricPrecision"/>
<circle cx="251.5" cy="603.4" r="6" fill="#ffffff" stroke="#4a4a4a" stroke-width="1" shape-rendering="geometricPrecision"/>
<rect x="27" y="720" width="745" height="1.2" fill="#34363c"/>
<rect x="772" y="720.8" width="353" height="1.2" fill="#34363c"/>
<path d="M699 30.8 h4.5 v-3.2 l5 5.4 l-5 5.4 v-3.2 h-4.5 z" fill="#e0e0e0" shape-rendering="geometricPrecision"/>
<rect x="709.5" y="27.5" width="1.8" height="11" fill="#e0e0e0"/>
<path d="M703.5 428 h7 l-3.5 3.8 z" fill="#d8d8d8" shape-rendering="geometricPrecision"/>
<rect x="557.5" y="492.5" width="157.5" height="18.5" fill="#1b1d22" stroke="#3a3c42" stroke-width="1"/>
<rect x="609.5" y="492.5" width="1" height="18.5" fill="#3a3c42"/>
<rect x="649" y="492.5" width="1" height="18.5" fill="#3a3c42"/>
<rect x="558.5" y="495.5" width="11" height="11" fill="#d4d8e4" stroke="#8090b0" stroke-width="1"/>
<path d="M561.0 501 l2.4 3 l4.2 -6" fill="none" stroke="#1f4fbf" stroke-width="1.6" shape-rendering="geometricPrecision"/>
<rect x="610.5" y="495.5" width="11" height="11" fill="#d4d8e4" stroke="#8090b0" stroke-width="1"/>
<path d="M613.0 501 l2.4 3 l4.2 -6" fill="none" stroke="#1f4fbf" stroke-width="1.6" shape-rendering="geometricPrecision"/>
<rect x="27.5" y="62.5" width="57" height="467.5" fill="#1b1d22" stroke="#3e4046" stroke-width="1"/>
<rect x="71.5" y="62.5" width="13" height="13" fill="none" stroke="#3e4046" stroke-width="1"/>
<rect x="71.5" y="75.5" width="13" height="14.5" fill="none" stroke="#3e4046" stroke-width="1"/>
<path d="M74 65 l8 7.7 M82 65 l-8 7.7" stroke="#6e7074" stroke-width="0.9" shape-rendering="geometricPrecision"/>
<path d="M81.60 82.90 L83.00 82.90 M80.55 85.45 L81.54 86.44 M78.00 86.50 L78.00 87.90 M75.45 85.45 L74.46 86.44 M74.40 82.90 L73.00 82.90 M75.45 80.35 L74.46 79.36 M78.00 79.30 L78.00 77.90 M80.55 80.35 L81.54 79.36" stroke="#6a6c70" stroke-width="1.8" shape-rendering="geometricPrecision"/>
<circle cx="78" cy="82.9" r="3.6" fill="#1b1d22" stroke="#6a6c70" stroke-width="1" shape-rendering="geometricPrecision"/>
<circle cx="78" cy="82.9" r="1.4" fill="none" stroke="#6a6c70" stroke-width="0.9" shape-rendering="geometricPrecision"/>
</svg>
<div class="t" style="left:38.0px;top:0.5px;width:64px;height:19px;line-height:19px;font-size:13px;color:#d6d6d6;text-align:center;">多股同列</div>
<div class="t" style="left:110.0px;top:0.5px;width:83px;height:19px;line-height:19px;font-size:13px;color:#d6d6d6;text-align:center;">分时K线同列</div>
<div class="t" style="left:271.0px;top:0.5px;width:40px;height:19px;line-height:19px;font-size:13px;color:#d6d6d6;text-align:center;">公式</div>
<div class="t" style="left:463.0px;top:0.5px;width:40px;height:19px;line-height:19px;font-size:13px;color:#d6d6d6;text-align:center;">副屏</div>
<div class="t" style="left:699.0px;top:0.5px;width:39.5px;height:19px;line-height:19px;font-size:13px;color:#d6d6d6;text-align:center;">热键</div>
<div class="t" style="left:218px;top:0.5px;height:19px;line-height:19px;font-size:13px;color:#d6d6d6;">选股</div>
<div class="t" style="left:326px;top:0.5px;height:19px;line-height:19px;font-size:13px;color:#d6d6d6;">换肤</div>
<div class="t" style="left:385.6px;top:0.5px;height:19px;line-height:19px;font-size:13px;color:#d6d6d6;">恢复配置</div>
<div class="t" style="left:517.4px;top:0.5px;height:19px;line-height:19px;font-size:13px;color:#d6d6d6;">微软雅黑</div>
<div class="t" style="left:602px;top:-0.5px;height:21px;line-height:21px;font-size:15px;color:#d6d6d6;">−</div>
<div class="t" style="left:624.8px;top:0.8px;height:18.5px;line-height:18.5px;font-size:12.5px;color:#d6d6d6;">小三</div>
<div class="t" style="left:673px;top:-1.5px;height:23px;line-height:23px;font-size:17px;color:#d6d6d6;">+</div>
<div class="t" style="left:26.0px;top:23.9px;width:31.4px;height:18.3px;line-height:18.3px;font-size:12.3px;color:#e6e6e6;text-align:center;">分时</div>
<div class="t" style="left:59.0px;top:23.9px;width:27.4px;height:18.3px;line-height:18.3px;font-size:12.3px;color:#e6e6e6;text-align:center;">1分</div>
<div class="t" style="left:86.4px;top:23.9px;width:25.700000000000003px;height:18.3px;line-height:18.3px;font-size:12.3px;color:#e6e6e6;text-align:center;">5分</div>
<div class="t" style="left:112.1px;top:23.9px;width:34.5px;height:18.3px;line-height:18.3px;font-size:12.3px;color:#e6e6e6;text-align:center;">15分</div>
<div class="t" style="left:146.6px;top:23.9px;width:34px;height:18.3px;line-height:18.3px;font-size:12.3px;color:#e6e6e6;text-align:center;">30分</div>
<div class="t" style="left:180.6px;top:23.9px;width:34px;height:18.3px;line-height:18.3px;font-size:12.3px;color:#e6e6e6;text-align:center;">60分</div>
<div class="t" style="left:213.0px;top:23.9px;width:33px;height:18.3px;line-height:18.3px;font-size:12.3px;color:#e6e6e6;text-align:center;">半日</div>
<div class="t" style="left:246.0px;top:23.9px;width:19px;height:18.3px;line-height:18.3px;font-size:12.3px;color:#ffffff;text-align:center;">日</div>
<div class="t" style="left:265.0px;top:23.9px;width:20px;height:18.3px;line-height:18.3px;font-size:12.3px;color:#e6e6e6;text-align:center;">周</div>
<div class="t" style="left:285.0px;top:23.9px;width:20px;height:18.3px;line-height:18.3px;font-size:12.3px;color:#e6e6e6;text-align:center;">月</div>
<div class="t" style="left:305.0px;top:23.9px;width:20px;height:18.3px;line-height:18.3px;font-size:12.3px;color:#e6e6e6;text-align:center;">季</div>
<div class="t" style="left:325.0px;top:23.9px;width:20px;height:18.3px;line-height:18.3px;font-size:12.3px;color:#e6e6e6;text-align:center;">年</div>
<div class="t" style="left:345.0px;top:23.9px;width:45px;height:18.3px;line-height:18.3px;font-size:12.3px;color:#e6e6e6;text-align:center;">多周期</div>
<div class="t" style="left:390.0px;top:23.9px;width:31px;height:18.3px;line-height:18.3px;font-size:12.3px;color:#e6e6e6;text-align:center;">设置</div>
<div class="t" style="left:421.0px;top:23.9px;width:32px;height:18.3px;line-height:18.3px;font-size:12.3px;color:#e6e6e6;text-align:center;">画线</div>
<div class="t" style="left:574.2px;top:23.9px;width:30px;height:18.3px;line-height:18.3px;font-size:12.3px;color:#e6e6e6;text-align:center;">九转</div>
<div class="t" style="left:604.2px;top:23.9px;width:21px;height:18.3px;line-height:18.3px;font-size:12.3px;color:#e6e6e6;text-align:center;">加</div>
<div class="t" style="left:625.2px;top:23.9px;width:20px;height:18.3px;line-height:18.3px;font-size:12.3px;color:#e6e6e6;text-align:center;">窗</div>
<div class="t" style="left:645.2px;top:23.9px;width:20px;height:18.3px;line-height:18.3px;font-size:12.3px;color:#e6e6e6;text-align:center;">区</div>
<div class="t" style="left:665.2px;top:23.9px;width:30px;height:18.3px;line-height:18.3px;font-size:12.3px;color:#e6e6e6;text-align:center;">信息</div>
<div class="t" style="left:6.3px;top:58.0px;width:20px;height:19px;line-height:19px;font-size:13px;color:#d4d4d4;text-align:center;">自</div>
<div class="t" style="left:6.3px;top:75.0px;width:20px;height:19px;line-height:19px;font-size:13px;color:#d4d4d4;text-align:center;">选</div>
<div class="t" style="left:6.3px;top:92.0px;width:20px;height:19px;line-height:19px;font-size:13px;color:#d4d4d4;text-align:center;">股</div>
<div class="t" style="left:6.3px;top:128.0px;width:20px;height:19px;line-height:19px;font-size:13px;color:#d4d4d4;text-align:center;">分</div>
<div class="t" style="left:6.3px;top:145.0px;width:20px;height:19px;line-height:19px;font-size:13px;color:#d4d4d4;text-align:center;">时</div>
<div class="t" style="left:6.3px;top:162.0px;width:20px;height:19px;line-height:19px;font-size:13px;color:#d4d4d4;text-align:center;">图</div>
<div class="t" style="left:6.3px;top:199.0px;width:20px;height:19px;line-height:19px;font-size:13px;color:#ffffff;text-align:center;">K</div>
<div class="t" style="left:6.3px;top:216.0px;width:20px;height:19px;line-height:19px;font-size:13px;color:#ffffff;text-align:center;">线</div>
<div class="t" style="left:6.3px;top:233.0px;width:20px;height:19px;line-height:19px;font-size:13px;color:#ffffff;text-align:center;">图</div>
<div class="t" style="left:6.3px;top:270.0px;width:20px;height:19px;line-height:19px;font-size:13px;color:#d4d4d4;text-align:center;">周</div>
<div class="t" style="left:6.3px;top:287.0px;width:20px;height:19px;line-height:19px;font-size:13px;color:#d4d4d4;text-align:center;">期</div>
<div class="t" style="left:6.3px;top:323.0px;width:20px;height:19px;line-height:19px;font-size:13px;color:#d4d4d4;text-align:center;">画</div>
<div class="t" style="left:6.3px;top:340.0px;width:20px;height:19px;line-height:19px;font-size:13px;color:#d4d4d4;text-align:center;">线</div>
<div class="t" style="left:6.3px;top:376.0px;width:20px;height:19px;line-height:19px;font-size:13px;color:#d4d4d4;text-align:center;">历</div>
<div class="t" style="left:6.3px;top:393.0px;width:20px;height:19px;line-height:19px;font-size:13px;color:#d4d4d4;text-align:center;">史</div>
<div class="t" style="left:6.3px;top:410.3px;width:20px;height:19px;line-height:19px;font-size:13px;color:#d4d4d4;text-align:center;">成</div>
<div class="t" style="left:6.3px;top:427.5px;width:20px;height:19px;line-height:19px;font-size:13px;color:#d4d4d4;text-align:center;">交</div>
<div class="t" style="left:6.3px;top:466.5px;width:20px;height:19px;line-height:19px;font-size:13px;color:#d4d4d4;text-align:center;">价</div>
<div class="t" style="left:6.3px;top:483.5px;width:20px;height:19px;line-height:19px;font-size:13px;color:#d4d4d4;text-align:center;">量</div>
<div class="t" style="left:6.3px;top:500.5px;width:20px;height:19px;line-height:19px;font-size:13px;color:#d4d4d4;text-align:center;">分</div>
<div class="t" style="left:6.3px;top:517.0px;width:20px;height:19px;line-height:19px;font-size:13px;color:#d4d4d4;text-align:center;">布</div>
<div class="t" style="left:26.6px;top:43.4px;height:18px;line-height:18px;font-size:12px;color:#cfcfcf;">日线</div>
<div class="t" style="left:58.7px;top:43.2px;height:18px;line-height:18px;font-size:12px;color:#f0f0f0;">天然气2207</div>
<div class="t" style="left:127px;top:43.2px;height:18px;line-height:18px;font-size:12px;color:#e8e8e8;letter-spacing:-0.2px;">MA5: 7.465</div>
<div class="t" style="left:191.5px;top:43.2px;height:18px;line-height:18px;font-size:12px;color:#c9c36e;letter-spacing:-0.2px;">MA10: 6.962</div>
<div class="t" style="left:262.7px;top:43.2px;height:18px;line-height:18px;font-size:12px;color:#dc3f7c;letter-spacing:-0.2px;">MA20: 6.279</div>
<div class="t" style="left:333.3px;top:43.2px;height:18px;line-height:18px;font-size:12px;color:#2fae2f;letter-spacing:-0.2px;">MA30: 5.811</div>
<div class="t" style="left:404.2px;top:43.2px;height:18px;line-height:18px;font-size:12px;color:#e8e8e8;letter-spacing:-0.2px;">MA60: 5.181</div>
<div class="t" style="left:717.8px;top:54.0px;height:18.5px;line-height:18.5px;font-size:12.5px;color:#e03042;">8.514</div>
<div class="t" style="left:717.8px;top:123.9px;height:18.5px;line-height:18.5px;font-size:12.5px;color:#e03042;">7.578</div>
<div class="t" style="left:717.8px;top:195.1px;height:18.5px;line-height:18.5px;font-size:12.5px;color:#e03042;">6.642</div>
<div class="t" style="left:717.8px;top:266.8px;height:18.5px;line-height:18.5px;font-size:12.5px;color:#e03042;">5.693</div>
<div class="t" style="left:717.8px;top:338.1px;height:18.5px;line-height:18.5px;font-size:12.5px;color:#e03042;">4.757</div>
<div class="t" style="left:717.8px;top:431.8px;height:18.5px;line-height:18.5px;font-size:12.5px;color:#d83c40;">68245</div>
<div class="t" style="left:717.8px;top:456.6px;height:18.5px;line-height:18.5px;font-size:12.5px;color:#d83c40;">34792</div>
<div class="t" style="left:717.8px;top:503.6px;height:18.5px;line-height:18.5px;font-size:12.5px;color:#d8d8d8;">162347</div>
<div class="t" style="left:717.8px;top:529.5px;height:18.5px;line-height:18.5px;font-size:12.5px;color:#d8d8d8;">106745</div>
<div class="t" style="left:717.8px;top:555.9px;height:18.5px;line-height:18.5px;font-size:12.5px;color:#d8d8d8;">51143</div>
<div class="t" style="left:679.4px;top:70.7px;height:18px;line-height:18px;font-size:12px;color:#d0d4d8;">8.279</div>
<div class="t" style="left:119.5px;top:360.5px;height:18px;line-height:18px;font-size:12px;color:#c4c8cc;">4.462</div>
<div class="t" style="left:89.8px;top:420.3px;height:18px;line-height:18px;font-size:12px;color:#b9bf52;letter-spacing:-0.25px;">MAVOL5: 42387</div>
<div class="t" style="left:180px;top:420.3px;height:18px;line-height:18px;font-size:12px;color:#eeeeee;letter-spacing:-0.25px;">MAVOL10: 40649</div>
<div class="t" style="left:278.5px;top:420.3px;height:18px;line-height:18px;font-size:12px;color:#dc3f7c;letter-spacing:-0.25px;">MAVOL5: 42387</div>
<div class="t" style="left:369px;top:420.3px;height:18px;line-height:18px;font-size:12px;color:#b9bf52;letter-spacing:-0.25px;">MAVOL10: 40649</div>
<div style="position:absolute;left:623.5px;top:420px;width:92px;height:20.5px;border-left:1px solid #3a3c42;border-bottom:1px solid #3a3c42;box-sizing:border-box;"></div>
<div class="t" style="left:651px;top:421.0px;height:18px;line-height:18px;font-size:12px;color:#e0e0e0;">成交量</div>
<div class="t" style="left:84.7px;top:493.6px;height:18.5px;line-height:18.5px;font-size:12.5px;color:#eeeeee;">2347</div>
<div class="t" style="left:115.2px;top:493.6px;height:18.5px;line-height:18.5px;font-size:12.5px;color:#b9bf52;">仓差: 4096</div>
<div class="t" style="left:572.6px;top:492.9px;height:18px;line-height:18px;font-size:12px;color:#e8e8e8;">持仓量</div>
<div class="t" style="left:625px;top:492.9px;height:18px;line-height:18px;font-size:12px;color:#e8e8e8;">仓差</div>
<div class="t" style="left:658px;top:492.9px;height:18px;line-height:18px;font-size:12px;color:#e8e8e8;">指标说明</div>
<div class="t" style="left:28.0px;top:61.5px;width:56px;height:19px;line-height:19px;font-size:13px;color:#dcdcdc;text-align:center;">时间</div>
<div class="t" style="left:28.0px;top:78.5px;width:56px;height:19px;line-height:19px;font-size:13px;color:#dcdcdc;text-align:center;">2022</div>
<div class="t" style="left:28.0px;top:95.6px;width:56px;height:19px;line-height:19px;font-size:13px;color:#dcdcdc;text-align:center;">0419</div>
<div class="t" style="left:28.0px;top:112.6px;width:56px;height:19px;line-height:19px;font-size:13px;color:#dcdcdc;text-align:center;">周二</div>
<div class="t" style="left:28.0px;top:129.6px;width:56px;height:19px;line-height:19px;font-size:13px;color:#dcdcdc;text-align:center;">数值</div>
<div class="t" style="left:28.0px;top:163.7px;width:56px;height:19px;line-height:19px;font-size:13px;color:#dcdcdc;text-align:center;">开盘</div>
<div class="t" style="left:28.0px;top:180.7px;width:56px;height:19px;line-height:19px;font-size:13px;color:#35c46c;text-align:center;">7.981</div>
<div class="t" style="left:28.0px;top:197.7px;width:56px;height:19px;line-height:19px;font-size:13px;color:#dcdcdc;text-align:center;">最高</div>
<div class="t" style="left:28.0px;top:214.8px;width:56px;height:19px;line-height:19px;font-size:13px;color:#ee3145;text-align:center;">8.151</div>
<div class="t" style="left:28.0px;top:231.8px;width:56px;height:19px;line-height:19px;font-size:13px;color:#dcdcdc;text-align:center;">最低</div>
<div class="t" style="left:28.0px;top:248.8px;width:56px;height:19px;line-height:19px;font-size:13px;color:#35c46c;text-align:center;">7.758</div>
<div class="t" style="left:28.0px;top:265.9px;width:56px;height:19px;line-height:19px;font-size:13px;color:#dcdcdc;text-align:center;">收盘</div>
<div class="t" style="left:28.0px;top:282.9px;width:56px;height:19px;line-height:19px;font-size:13px;color:#35c46c;text-align:center;">7.793</div>
<div class="t" style="left:28.0px;top:299.9px;width:56px;height:19px;line-height:19px;font-size:13px;color:#dcdcdc;text-align:center;">振幅</div>
<div class="t" style="left:28.0px;top:317.0px;width:56px;height:19px;line-height:19px;font-size:13px;color:#dcdcdc;text-align:center;">4.89%</div>
<div class="t" style="left:28.0px;top:334.0px;width:56px;height:19px;line-height:19px;font-size:13px;color:#dcdcdc;text-align:center;">涨幅</div>
<div class="t" style="left:28.0px;top:351.0px;width:56px;height:19px;line-height:19px;font-size:13px;color:#35c46c;text-align:center;">-3.10%</div>
<div class="t" style="left:28.0px;top:368.0px;width:56px;height:19px;line-height:19px;font-size:13px;color:#dcdcdc;text-align:center;">总手</div>
<div class="t" style="left:28.0px;top:385.1px;width:56px;height:19px;line-height:19px;font-size:13px;color:#dcdcdc;text-align:center;">2,055</div>
<div class="t" style="left:28.0px;top:402.1px;width:56px;height:19px;line-height:19px;font-size:13px;color:#dcdcdc;text-align:center;">持仓</div>
<div class="t" style="left:28.0px;top:419.1px;width:56px;height:19px;line-height:19px;font-size:13px;color:#dcdcdc;text-align:center;">162347</div>
<div class="t" style="left:28.0px;top:436.2px;width:56px;height:19px;line-height:19px;font-size:13px;color:#dcdcdc;text-align:center;">增仓</div>
<div class="t" style="left:28.0px;top:453.2px;width:56px;height:19px;line-height:19px;font-size:13px;color:#dcdcdc;text-align:center;">+4096</div>
<div class="t" style="left:28.0px;top:470.2px;width:56px;height:19px;line-height:19px;font-size:13px;color:#dcdcdc;text-align:center;">今结</div>
<div class="t" style="left:28.0px;top:487.2px;width:56px;height:19px;line-height:19px;font-size:13px;color:#dcdcdc;text-align:center;">8.042</div>
<div class="t" style="left:28.0px;top:504.3px;width:56px;height:19px;line-height:19px;font-size:13px;color:#dcdcdc;text-align:center;">昨结</div>
<div style="position:absolute;left:28px;top:520px;width:56px;height:9.9px;overflow:hidden;"><div class="t" style="left:0;top:1.3px;width:56px;height:19px;line-height:19px;font-size:13px;color:#dcdcdc;text-align:center;">8.042</div></div>
<div class="t" style="left:774px;top:26.5px;width:29px;height:16px;line-height:16px;font-size:12px;color:#2a72dc;text-align:center;">延时</div>
<div class="t" style="left:859.5px;top:22px;height:26px;line-height:26px;font-size:21px;color:#dadada;font-weight:bold;letter-spacing:0.4px;font-family:'Liberation Serif','Noto Serif CJK SC',serif;">天然气2207 @NG22N</div>
<div class="t" style="left:828px;top:53.5px;height:30px;line-height:30px;font-size:27px;color:#35c46c;font-weight:bold;font-family:'Liberation Mono',monospace;transform:scaleX(0.815);transform-origin:0 0;">7.795</div>
<div class="t" style="right:114.0px;top:60.2px;height:19.6px;line-height:19.6px;font-size:13.6px;color:#35c46c;text-align:right;font-weight:bold;">-0.247</div>
<div class="t" style="right:23.5px;top:60.2px;height:19.6px;line-height:19.6px;font-size:13.6px;color:#35c46c;text-align:right;font-weight:bold;">-3.07%</div>
<div class="t" style="left:774.5px;top:83.4px;height:19px;line-height:19px;font-size:13px;color:#dcdcdc;">卖出</div>
<div class="t" style="right:179.0px;top:83.2px;height:19.5px;line-height:19.5px;font-size:13.5px;color:#ee3145;text-align:right;">8.070</div>
<div class="t" style="right:3.0px;top:83.2px;height:19.5px;line-height:19.5px;font-size:13.5px;color:#dcdcdc;text-align:right;">5</div>
<div class="t" style="left:774.5px;top:101.1px;height:19px;line-height:19px;font-size:13px;color:#dcdcdc;">买入</div>
<div class="t" style="right:179.0px;top:100.9px;height:19.5px;line-height:19.5px;font-size:13.5px;color:#35c46c;text-align:right;">7.785</div>
<div class="t" style="right:3.0px;top:100.9px;height:19.5px;line-height:19.5px;font-size:13.5px;color:#dcdcdc;text-align:right;">1</div>
<div class="t" style="left:774.5px;top:118.8px;height:19px;line-height:19px;font-size:13px;color:#dcdcdc;">成交</div>
<div class="t" style="right:179.0px;top:118.6px;height:19.5px;line-height:19.5px;font-size:13.5px;color:#35c46c;text-align:right;">7.795</div>
<div class="t" style="left:951px;top:118.8px;height:19px;line-height:19px;font-size:13px;color:#dcdcdc;">开盘</div>
<div class="t" style="right:3.0px;top:118.6px;height:19.5px;line-height:19.5px;font-size:13.5px;color:#35c46c;text-align:right;">7.981</div>
<div class="t" style="left:774.5px;top:136.5px;height:19px;line-height:19px;font-size:13px;color:#dcdcdc;">涨跌</div>
<div class="t" style="right:179.0px;top:136.2px;height:19.5px;line-height:19.5px;font-size:13.5px;color:#35c46c;text-align:right;">-0.247</div>
<div class="t" style="left:951px;top:136.5px;height:19px;line-height:19px;font-size:13px;color:#dcdcdc;">昨收</div>
<div class="t" style="right:3.0px;top:136.2px;height:19.5px;line-height:19.5px;font-size:13.5px;color:#dcdcdc;text-align:right;">8.042</div>
<div class="t" style="left:774.5px;top:154.2px;height:19px;line-height:19px;font-size:13px;color:#dcdcdc;">涨幅</div>
<div class="t" style="right:179.0px;top:153.9px;height:19.5px;line-height:19.5px;font-size:13.5px;color:#35c46c;text-align:right;">-3.07%</div>
<div class="t" style="left:951px;top:154.2px;height:19px;line-height:19px;font-size:13px;color:#dcdcdc;">最高</div>
<div class="t" style="right:3.0px;top:153.9px;height:19.5px;line-height:19.5px;font-size:13.5px;color:#ee3145;text-align:right;">8.151</div>
<div class="t" style="left:774.5px;top:171.9px;height:19px;line-height:19px;font-size:13px;color:#dcdcdc;">振幅</div>
<div class="t" style="right:179.0px;top:171.7px;height:19.5px;line-height:19.5px;font-size:13.5px;color:#dcdcdc;text-align:right;">4.89%</div>
<div class="t" style="left:951px;top:171.9px;height:19px;line-height:19px;font-size:13px;color:#dcdcdc;">最低</div>
<div class="t" style="right:3.0px;top:171.7px;height:19.5px;line-height:19.5px;font-size:13.5px;color:#35c46c;text-align:right;">7.758</div>
<div class="t" style="left:774.5px;top:189.6px;height:19px;line-height:19px;font-size:13px;color:#dcdcdc;">现手</div>
<div class="t" style="right:179.0px;top:189.3px;height:19.5px;line-height:19.5px;font-size:13.5px;color:#dcdcdc;text-align:right;">4</div>
<div class="t" style="left:951px;top:189.6px;height:19px;line-height:19px;font-size:13px;color:#dcdcdc;">均价</div>
<div class="t" style="right:3.0px;top:189.3px;height:19.5px;line-height:19.5px;font-size:13.5px;color:#35c46c;text-align:right;">7.941</div>
<div class="t" style="left:774.5px;top:207.3px;height:19px;line-height:19px;font-size:13px;color:#dcdcdc;">总手</div>
<div class="t" style="right:179.0px;top:207.1px;height:19.5px;line-height:19.5px;font-size:13.5px;color:#dcdcdc;text-align:right;">2,091</div>
<div class="t" style="left:951px;top:207.3px;height:19px;line-height:19px;font-size:13px;color:#dcdcdc;">金额</div>
<div class="t" style="right:3.0px;top:207.1px;height:19.5px;line-height:19.5px;font-size:13.5px;color:#dcdcdc;text-align:right;">--</div>
<div class="t" style="left:774.5px;top:225.0px;height:19px;line-height:19px;font-size:13px;color:#dcdcdc;">持仓</div>
<div class="t" style="right:179.0px;top:224.8px;height:19.5px;line-height:19.5px;font-size:13.5px;color:#dcdcdc;text-align:right;">162347</div>
<div class="t" style="left:951px;top:225.0px;height:19px;line-height:19px;font-size:13px;color:#dcdcdc;">昨结</div>
<div class="t" style="right:3.0px;top:224.8px;height:19.5px;line-height:19.5px;font-size:13.5px;color:#dcdcdc;text-align:right;">8.042</div>
<div class="t" style="left:774.5px;top:242.7px;height:19px;line-height:19px;font-size:13px;color:#dcdcdc;">日增仓</div>
<div class="t" style="right:179.0px;top:242.4px;height:19.5px;line-height:19.5px;font-size:13.5px;color:#dcdcdc;text-align:right;">+162347</div>
<div class="t" style="left:951px;top:242.7px;height:19px;line-height:19px;font-size:13px;color:#dcdcdc;">开平</div>
<div class="t" style="right:3.0px;top:242.4px;height:19.5px;line-height:19.5px;font-size:13.5px;color:#dcdcdc;text-align:right;">空开</div>
<div class="t" style="left:774.5px;top:260.4px;height:19px;line-height:19px;font-size:13px;color:#dcdcdc;">涨停</div>
<div class="t" style="right:179.0px;top:260.1px;height:19.5px;line-height:19.5px;font-size:13.5px;color:#dcdcdc;text-align:right;">--</div>
<div class="t" style="left:951px;top:260.4px;height:19px;line-height:19px;font-size:13px;color:#dcdcdc;">跌停</div>
<div class="t" style="right:3.0px;top:260.1px;height:19.5px;line-height:19.5px;font-size:13.5px;color:#35c46c;text-align:right;">0.001</div>
<div class="t" style="left:774.5px;top:292.7px;height:19px;line-height:19px;font-size:13px;color:#dcdcdc;">现价</div>
<div class="t" style="right:179.0px;top:292.4px;height:19.5px;line-height:19.5px;font-size:13.5px;color:#35c46c;text-align:right;">7.795</div>
<div class="t" style="right:3.0px;top:292.4px;height:19.5px;line-height:19.5px;font-size:13.5px;color:#dcdcdc;text-align:right;letter-spacing:0.6px;">2022-04-19,二</div>
<div class="t" style="right:299.5px;top:322.4px;height:18.5px;line-height:18.5px;font-size:12.5px;color:#ee3145;text-align:right;">8.324</div>
<div class="t" style="left:1058.5px;top:322.4px;height:18.5px;line-height:18.5px;font-size:12.5px;color:#ee3145;">3.51%</div>
<div class="t" style="right:299.5px;top:342.4px;height:18.5px;line-height:18.5px;font-size:12.5px;color:#ee3145;text-align:right;">8.286</div>
<div class="t" style="left:1058.5px;top:342.4px;height:18.5px;line-height:18.5px;font-size:12.5px;color:#ee3145;">3.03%</div>
<div class="t" style="right:299.5px;top:362.1px;height:18.5px;line-height:18.5px;font-size:12.5px;color:#ee3145;text-align:right;">8.245</div>
<div class="t" style="left:1058.5px;top:362.1px;height:18.5px;line-height:18.5px;font-size:12.5px;color:#ee3145;">2.53%</div>
<div class="t" style="right:299.5px;top:381.9px;height:18.5px;line-height:18.5px;font-size:12.5px;color:#ee3145;text-align:right;">8.205</div>
<div class="t" style="left:1058.5px;top:381.9px;height:18.5px;line-height:18.5px;font-size:12.5px;color:#ee3145;">2.02%</div>
<div class="t" style="right:299.5px;top:402.1px;height:18.5px;line-height:18.5px;font-size:12.5px;color:#ee3145;text-align:right;">8.164</div>
<div class="t" style="left:1058.5px;top:402.1px;height:18.5px;line-height:18.5px;font-size:12.5px;color:#ee3145;">1.52%</div>
<div class="t" style="right:299.5px;top:422.2px;height:18.5px;line-height:18.5px;font-size:12.5px;color:#ee3145;text-align:right;">8.124</div>
<div class="t" style="left:1058.5px;top:422.2px;height:18.5px;line-height:18.5px;font-size:12.5px;color:#ee3145;">1.02%</div>
<div class="t" style="right:299.5px;top:442.4px;height:18.5px;line-height:18.5px;font-size:12.5px;color:#ee3145;text-align:right;">8.083</div>
<div class="t" style="left:1058.5px;top:442.4px;height:18.5px;line-height:18.5px;font-size:12.5px;color:#ee3145;">0.52%</div>
<div class="t" style="right:299.5px;top:462.1px;height:18.5px;line-height:18.5px;font-size:12.5px;color:#dcdcdc;text-align:right;">8.042</div>
<div class="t" style="left:1058.5px;top:462.1px;height:18.5px;line-height:18.5px;font-size:12.5px;color:#dcdcdc;">0.00%</div>
<div class="t" style="right:299.5px;top:481.6px;height:18.5px;line-height:18.5px;font-size:12.5px;color:#35c46c;text-align:right;">8.005</div>
<div class="t" style="left:1058.5px;top:481.6px;height:18.5px;line-height:18.5px;font-size:12.5px;color:#35c46c;">-0.47%</div>
<div class="t" style="right:299.5px;top:501.4px;height:18.5px;line-height:18.5px;font-size:12.5px;color:#35c46c;text-align:right;">7.964</div>
<div class="t" style="left:1058.5px;top:501.4px;height:18.5px;line-height:18.5px;font-size:12.5px;color:#35c46c;">-0.97%</div>
<div class="t" style="right:299.5px;top:521.1px;height:18.5px;line-height:18.5px;font-size:12.5px;color:#35c46c;text-align:right;">7.924</div>
<div class="t" style="left:1058.5px;top:521.1px;height:18.5px;line-height:18.5px;font-size:12.5px;color:#35c46c;">-1.47%</div>
<div class="t" style="right:299.5px;top:541.0px;height:18.5px;line-height:18.5px;font-size:12.5px;color:#35c46c;text-align:right;">7.883</div>
<div class="t" style="left:1058.5px;top:541.0px;height:18.5px;line-height:18.5px;font-size:12.5px;color:#35c46c;">-1.97%</div>
<div class="t" style="right:299.5px;top:561.4px;height:18.5px;line-height:18.5px;font-size:12.5px;color:#35c46c;text-align:right;">7.843</div>
<div class="t" style="left:1058.5px;top:561.4px;height:18.5px;line-height:18.5px;font-size:12.5px;color:#35c46c;">-2.48%</div>
<div class="t" style="right:299.5px;top:581.5px;height:18.5px;line-height:18.5px;font-size:12.5px;color:#35c46c;text-align:right;">7.802</div>
<div class="t" style="left:1058.5px;top:581.5px;height:18.5px;line-height:18.5px;font-size:12.5px;color:#35c46c;">-2.98%</div>
<div class="t" style="right:299.5px;top:602.6px;height:18.5px;line-height:18.5px;font-size:12.5px;color:#35c46c;text-align:right;">7.760</div>
<div class="t" style="left:1058.5px;top:602.6px;height:18.5px;line-height:18.5px;font-size:12.5px;color:#35c46c;">-3.51%</div>
<div class="t" style="right:300.5px;top:624.0px;height:18.5px;line-height:18.5px;font-size:12.5px;color:#d0d0d0;text-align:right;">42471</div>
<div class="t" style="right:300.5px;top:645.8px;height:18.5px;line-height:18.5px;font-size:12.5px;color:#d0d0d0;text-align:right;">31853</div>
<div class="t" style="right:300.5px;top:667.5px;height:18.5px;line-height:18.5px;font-size:12.5px;color:#d0d0d0;text-align:right;">21235</div>
<div class="t" style="right:300.5px;top:689.5px;height:18.5px;line-height:18.5px;font-size:12.5px;color:#d0d0d0;text-align:right;">10618</div>
<div class="t" style="left:47px;top:593.5px;height:20px;line-height:20px;font-size:14px;color:#d9d47c;font-family:'Noto Sans CJK SC',sans-serif;">全部</div>
<div class="t" style="left:102px;top:593.5px;height:20px;line-height:20px;font-size:14px;color:#d9d47c;font-family:'Noto Sans CJK SC',sans-serif;">近一个月</div>
<div class="t" style="left:185px;top:593.5px;height:20px;line-height:20px;font-size:14px;color:#d9d47c;font-family:'Noto Sans CJK SC',sans-serif;">近6个月</div>
<div class="t" style="left:260.5px;top:593.5px;height:20px;line-height:20px;font-size:14px;color:#d9d47c;font-family:'Noto Sans CJK SC',sans-serif;">近一年</div>
<div class="t" style="left:158.4px;top:613.2px;height:20px;line-height:20px;font-size:14px;color:#0a0a0a;font-family:'Noto Sans CJK SC',sans-serif;">公司新闻</div>
<div class="t" style="left:501px;top:612.2px;height:20px;line-height:20px;font-size:14px;color:#0a0a0a;font-family:'Noto Sans CJK SC',sans-serif;">公告研报</div>
<div class="t" style="left:676.4px;top:604.0px;height:18px;line-height:18px;font-size:12px;color:#d9d47c;">行业资讯<span style="font-size:10px;">▶</span></div>
<div class="t" style="left:369.3px;top:636.9px;height:20px;line-height:20px;font-size:14px;color:#8a8a8a;font-family:'Liberation Mono',monospace;letter-spacing:-1.4px;">2022-04-19</div>
<div class="t" style="left:451.4px;top:635.3px;height:20px;line-height:20px;font-size:14px;color:#d9d47c;font-family:'Noto Sans CJK SC',sans-serif;"><span style="font-family:'Liberation Mono',monospace;font-size:14px;letter-spacing:-1.4px;">1</span>季度经济数据点评：经济增长动<span style="font-family:'Liberation Mono',monospace;font-size:14px;letter-spacing:-1.4px;">...</span></div>
<div class="t" style="left:369.3px;top:657.8px;height:20px;line-height:20px;font-size:14px;color:#8a8a8a;font-family:'Liberation Mono',monospace;letter-spacing:-1.4px;">2022-04-19</div>
<div class="t" style="left:451.4px;top:656.1px;height:20px;line-height:20px;font-size:14px;color:#d9d47c;font-family:'Noto Sans CJK SC',sans-serif;"><span style="font-family:'Liberation Mono',monospace;font-size:14px;letter-spacing:-1.4px;">2022</span>年<span style="font-family:'Liberation Mono',monospace;font-size:14px;letter-spacing:-1.4px;">3</span>月经济数据点评：经济尚<span style="font-family:'Liberation Mono',monospace;font-size:14px;letter-spacing:-1.4px;">...</span></div>
<div class="t" style="left:369.3px;top:678.7px;height:20px;line-height:20px;font-size:14px;color:#8a8a8a;font-family:'Liberation Mono',monospace;letter-spacing:-1.4px;">2022-04-19</div>
<div class="t" style="left:451.4px;top:677.0px;height:20px;line-height:20px;font-size:14px;color:#d9d47c;font-family:'Noto Sans CJK SC',sans-serif;"><span style="font-family:'Liberation Mono',monospace;font-size:14px;letter-spacing:-1.4px;">2022</span>年<span style="font-family:'Liberation Mono',monospace;font-size:14px;letter-spacing:-1.4px;">3</span>月行业动态报告：继续把<span style="font-family:'Liberation Mono',monospace;font-size:14px;letter-spacing:-1.4px;">...</span></div>
<div class="t" style="left:369.3px;top:699.7px;height:20px;line-height:20px;font-size:14px;color:#8a8a8a;font-family:'Liberation Mono',monospace;letter-spacing:-1.4px;">2022-04-19</div>
<div class="t" style="left:451.4px;top:698.0px;height:20px;line-height:20px;font-size:14px;color:#d9d47c;font-family:'Noto Sans CJK SC',sans-serif;"><span style="font-family:'Liberation Mono',monospace;font-size:14px;letter-spacing:-1.4px;">3</span>月经济数据点评：追逐目标增速<span style="font-family:'Liberation Mono',monospace;font-size:14px;letter-spacing:-1.4px;">...</span></div>
<div class="t" style="left:26.7px;top:722.5px;width:30.8px;height:18px;line-height:18px;font-size:12px;text-align:center;background:#1d1f24;color:#e0e0e0;border-radius:2px;box-sizing:border-box;border:1px solid #34363c;">设置</div>
<div class="t" style="left:59.7px;top:722.5px;width:82.1px;height:18px;line-height:18px;font-size:12px;text-align:center;background:#1d1f24;color:#e0e0e0;border-radius:2px;box-sizing:border-box;border:1px solid #34363c;"><span style="color:#2374e6;letter-spacing:-0.8px;font-weight:bold;">NEW</span>指标广场</div>
<div class="t" style="left:144px;top:722.5px;width:38.5px;height:18px;line-height:18px;font-size:12px;text-align:center;background:#35373d;color:#e0e0e0;border-radius:2px;box-sizing:border-box;">BIAS</div>
<div class="t" style="left:184.3px;top:722.5px;width:31.5px;height:18px;line-height:18px;font-size:12px;text-align:center;background:#35373d;color:#e0e0e0;border-radius:2px;box-sizing:border-box;">ASI</div>
<div class="t" style="left:217.5px;top:722.5px;width:27.7px;height:18px;line-height:18px;font-size:12px;text-align:center;background:#35373d;color:#e0e0e0;border-radius:2px;box-sizing:border-box;">VR</div>
<div class="t" style="left:247.4px;top:722.5px;width:43.9px;height:18px;line-height:18px;font-size:12px;text-align:center;background:#35373d;color:#e0e0e0;border-radius:2px;box-sizing:border-box;">ARBR</div>
<div class="t" style="left:293.4px;top:722.5px;width:38.0px;height:18px;line-height:18px;font-size:12px;text-align:center;background:#35373d;color:#e0e0e0;border-radius:2px;box-sizing:border-box;">DPO</div>
<div class="t" style="left:333.5px;top:722.5px;width:39.0px;height:18px;line-height:18px;font-size:12px;text-align:center;background:#35373d;color:#e0e0e0;border-radius:2px;box-sizing:border-box;">TRIX</div>
<div class="t" style="left:374.3px;top:722.5px;width:53.3px;height:18px;line-height:18px;font-size:12px;text-align:center;background:#35373d;color:#e0e0e0;border-radius:2px;box-sizing:border-box;">新DMA</div>
<div class="t" style="left:429.3px;top:722.5px;width:32.4px;height:18px;line-height:18px;font-size:12px;text-align:center;background:#35373d;color:#e0e0e0;border-radius:2px;box-sizing:border-box;">BBI</div>
<div class="t" style="left:463.4px;top:722.5px;width:43.1px;height:18px;line-height:18px;font-size:12px;text-align:center;background:#35373d;color:#e0e0e0;border-radius:2px;box-sizing:border-box;">MTM</div>
<div class="t" style="left:508.6px;top:722.5px;width:37.9px;height:18px;line-height:18px;font-size:12px;text-align:center;background:#35373d;color:#e0e0e0;border-radius:2px;box-sizing:border-box;">OBV</div>
<div class="t" style="left:548.7px;top:722.5px;width:34.5px;height:18px;line-height:18px;font-size:12px;text-align:center;background:#35373d;color:#e0e0e0;border-radius:2px;box-sizing:border-box;">SAR</div>
<div class="t" style="left:585px;top:722.5px;width:55.2px;height:18px;line-height:18px;font-size:12px;text-align:center;background:#35373d;color:#e0e0e0;border-radius:2px;box-sizing:border-box;">EXPMA</div>
<div class="t" style="left:641.4px;top:722.5px;width:61.7px;height:18px;line-height:18px;font-size:12px;text-align:center;background:#1e6bdb;color:#ffffff;border-radius:2px;box-sizing:border-box;">ifind资讯</div>
<div class="t" style="left:733.5px;top:722.5px;width:18.1px;height:18px;line-height:18px;font-size:12px;text-align:center;background:#35373d;color:#e0e0e0;border-radius:2px;box-sizing:border-box;"><svg width="18" height="18" style="position:absolute;left:0;top:0"><path d="M11 4.5 l-4 4.5 l4 4.5" fill="none" stroke="#c8c8c8" stroke-width="1.2"/></svg></div>
<div class="t" style="left:753.4px;top:722.5px;width:18.1px;height:18px;line-height:18px;font-size:12px;text-align:center;background:#35373d;color:#e0e0e0;border-radius:2px;box-sizing:border-box;"><svg width="18" height="18" style="position:absolute;left:0;top:0"><path d="M7 4.5 l4 4.5 l-4 4.5" fill="none" stroke="#c8c8c8" stroke-width="1.2"/></svg></div>
<div class="t" style="left:772.3px;top:722.5px;width:24.7px;height:18px;line-height:18px;font-size:12.5px;text-align:center;background:#1e6bdb;color:#ffffff;border-radius:2px;box-sizing:border-box;">分</div>
<div class="t" style="left:798.4px;top:722.5px;width:24.1px;height:18px;line-height:18px;font-size:12.5px;text-align:center;background:#35373d;color:#e0e0e0;border-radius:2px;box-sizing:border-box;">筹</div>
<div class="t" style="left:824.5px;top:722.5px;width:24.2px;height:18px;line-height:18px;font-size:12.5px;text-align:center;background:#35373d;color:#e0e0e0;border-radius:2px;box-sizing:border-box;">焰</div>
</body></html>
